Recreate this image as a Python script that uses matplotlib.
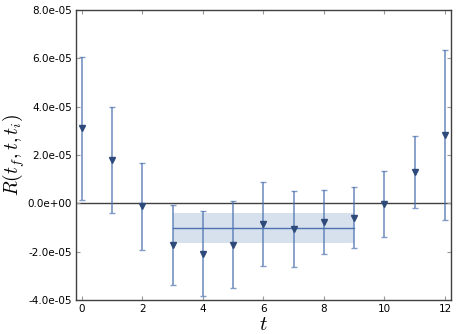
import numpy as np
import matplotlib
matplotlib.use('Agg')
import matplotlib.pyplot as plt
from matplotlib.ticker import FormatStrFormatter

plt.rcParams['mathtext.fontset'] = 'cm'

# datos
t = [0, 1, 2, 3, 4, 5, 6, 7, 8, 9, 10, 11, 12]
R = [3.1e-5, 1.78e-5, -0.12e-5, -1.72e-5, -2.08e-5, -1.72e-5, -0.85e-5,
     -1.05e-5, -0.77e-5, -0.6e-5, -0.02e-5, 1.3e-5, 2.82e-5]
R_err = [2.95e-5, 2.2e-5, 1.8e-5, 1.67e-5, 1.76e-5, 1.8e-5, 1.74e-5,
         1.57e-5, 1.31e-5, 1.26e-5, 1.37e-5, 1.48e-5, 3.53e-5]

# ajuste constante en la ventana
fit_t = [3, 9]
fit_val = -1.03e-5
fit_err = 0.61e-5

fig = plt.figure(figsize=(4.57, 3.34), dpi=100)
ax = fig.add_axes([0.166, 0.102, 0.821, 0.868])

ax.axhline(0, color='#404040', lw=1.0, zorder=1)

ax.fill_between(fit_t, fit_val - fit_err, fit_val + fit_err,
                color='#4C72B0', alpha=0.22, lw=0, zorder=1)
ax.plot(fit_t, [fit_val, fit_val], color='#4C72B0', lw=1.0, zorder=2)

ax.errorbar(t, R, yerr=R_err, fmt='none', ecolor='#4C72B0', alpha=0.7,
            elinewidth=1.3, capsize=2.5, capthick=1.0, zorder=3)
ax.plot(t, R, 'v', color='#2E4A7A', markersize=5, zorder=4)

ax.set_xlim(-0.2, 12.2)
ax.set_ylim(-4e-5, 8e-5)
ax.set_xticks([0, 2, 4, 6, 8, 10, 12])
ax.set_yticks(np.arange(-4e-5, 8.1e-5, 2e-5))
ax.yaxis.set_major_formatter(FormatStrFormatter('%.1e'))
ax.tick_params(direction='in', top=True, right=True, length=3,
               color='#999999', labelsize=7.5, pad=3)
for s in ax.spines.values():
    s.set_color('#404040')
    s.set_linewidth(1.0)

ax.set_xlabel('$t$', fontsize=15, labelpad=0)
ax.set_ylabel('$R(t_f,t,t_i)$', fontsize=14, labelpad=0)

fig.savefig('out.png', dpi=100)
